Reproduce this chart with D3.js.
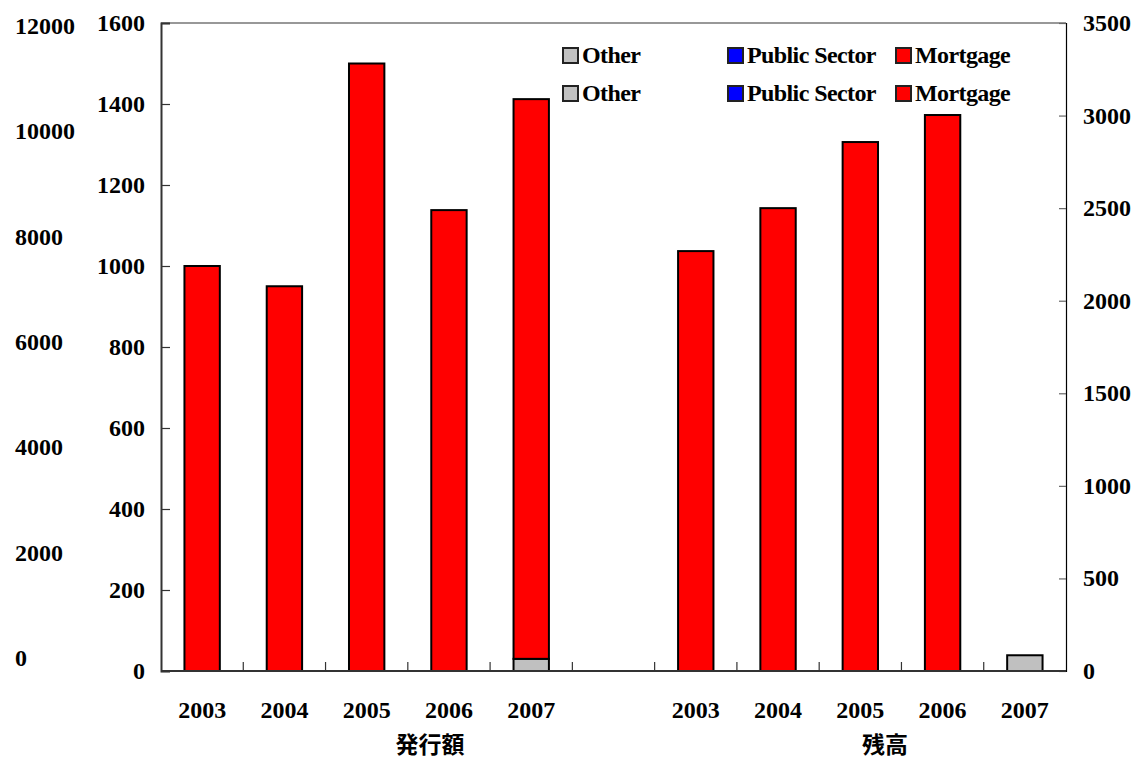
<!DOCTYPE html>
<html>
<head>
<meta charset="utf-8">
<script src="https://cdn.jsdelivr.net/npm/d3@7"></script>
<style>
  html, body { margin: 0; padding: 0; background: #fff; }
  svg { display: block; }
  .num { font-family: "Liberation Serif", "Times New Roman", serif; font-weight: bold; font-size: 24px; fill: #000; }
  .leg { font-family: "Liberation Serif", "Times New Roman", serif; font-weight: bold; font-size: 24px; letter-spacing: -0.6px; fill: #000; }
  .cjk { font-family: "Noto Sans CJK JP", sans-serif; font-weight: bold; font-size: 23px; fill: #000; }
</style>
</head>
<body>
<svg id="chart" width="1135" height="760"></svg>
<script>
// Covered bond issuance (発行額) and outstanding balance (残高), by year
const years = ["2003", "2004", "2005", "2006", "2007"];
const groupTitles = ["発行額", "残高"];

const issuanceOther    = [0, 0, 0, 0, 30];
const issuancePublic   = [0, 0, 0, 0, 0];
const issuanceMortgage = [1000, 950, 1500, 1138, 1382];

const balanceOther    = [0, 0, 0, 0, 85];
const balancePublic   = [0, 0, 0, 0, 0];
const balanceMortgage = [2268, 2500, 2857, 3003, 0];

const seriesNames  = ["Other", "Public Sector", "Mortgage"];
const seriesColors = ["#c0c0c0", "#0000ff", "#ff0000"];

const leftTicks  = [0, 200, 400, 600, 800, 1000, 1200, 1400, 1600];
const rightTicks = [0, 500, 1000, 1500, 2000, 2500, 3000, 3500];
const outerTicks = [0, 2000, 4000, 6000, 8000, 10000, 12000];

const svg = d3.select("#chart");
const plot = { left: 161, right: 1066, top: 23, bottom: 671 };

// 11 slots: five issuance years, an empty gap, five balance years
const slots = years.map(y => "i" + y).concat(["gap"], years.map(y => "b" + y));
const x = d3.scaleBand().domain(slots).range([plot.left, plot.right]).padding(0);
const barW = x.bandwidth() * 0.43;

const yLeft  = d3.scaleLinear().domain([0, 1600]).range([plot.bottom, plot.top]);
const yRight = d3.scaleLinear().domain([0, 3500]).range([plot.bottom, plot.top]);
const yOuter = d3.scaleLinear().domain([0, 12000]).range([658, 26]);

// Build stacked rows (Other at the bottom, Mortgage on top)
function rows(prefix, other, pub, mort) {
  return years.map((y, i) => ({ key: prefix + y, Other: other[i], "Public Sector": pub[i], Mortgage: mort[i] }));
}
const stack = d3.stack().keys(seriesNames);
const issuanceStack = stack(rows("i", issuanceOther, issuancePublic, issuanceMortgage));
const balanceStack  = stack(rows("b", balanceOther, balancePublic, balanceMortgage));

function drawBars(stacked, yScale) {
  const g = svg.append("g");
  stacked.forEach((layer, li) => {
    g.selectAll(null)
      .data(layer.filter(d => d[1] - d[0] > 0))
      .enter().append("rect")
      .attr("x", d => x(d.data.key) + (x.bandwidth() - barW) / 2)
      .attr("y", d => yScale(d[1]))
      .attr("width", barW)
      .attr("height", d => yScale(d[0]) - yScale(d[1]))
      .attr("fill", seriesColors[li])
      .attr("stroke", "#000")
      .attr("stroke-width", 2);
  });
}
drawBars(issuanceStack, yLeft);
drawBars(balanceStack, yRight);

// Frame: top edge
svg.append("line").attr("x1", plot.left).attr("x2", plot.right).attr("y1", plot.top).attr("y2", plot.top)
  .attr("stroke", "#333").attr("stroke-width", 1.2);

// Left axis (0–1600)
const gl = svg.append("g").attr("transform", `translate(${plot.left},0)`)
  .call(d3.axisRight(yLeft).tickValues(leftTicks).tickSize(9).tickFormat(""));
gl.select(".domain").attr("stroke", "#333").attr("stroke-width", 2);
gl.selectAll(".tick line").attr("stroke", "#333").attr("stroke-width", 1.2);
svg.append("g").selectAll("text").data(leftTicks).enter().append("text")
  .attr("class", "num").attr("text-anchor", "end")
  .attr("x", 145).attr("y", d => yLeft(d) + 8).text(d => d);

// Right axis (0–3500)
const gr = svg.append("g").attr("transform", `translate(${plot.right},0)`)
  .call(d3.axisLeft(yRight).tickValues(rightTicks).tickSize(7).tickFormat(""));
gr.select(".domain").attr("stroke", "#000").attr("stroke-width", 1.2);
gr.selectAll(".tick line").attr("stroke", "#666").attr("stroke-width", 1.2);
svg.append("g").selectAll("text").data(rightTicks).enter().append("text")
  .attr("class", "num").attr("text-anchor", "start")
  .attr("x", 1083).attr("y", d => yRight(d) + 8).text(d => d);

// Outer scale labels (0–12000)
svg.append("g").selectAll("text").data(outerTicks).enter().append("text")
  .attr("class", "num").attr("text-anchor", "start")
  .attr("x", 15).attr("y", d => yOuter(d) + 8).text(d => d);

// Bottom axis with separators between slots
const gb = svg.append("g").attr("transform", `translate(0,${plot.bottom})`);
gb.append("line").attr("x1", plot.left).attr("x2", plot.right).attr("y1", 0).attr("y2", 0)
  .attr("stroke", "#333").attr("stroke-width", 2);
gb.selectAll(".sep").data(slots.slice(1)).enter().append("line")
  .attr("x1", d => x(d)).attr("x2", d => x(d)).attr("y1", 0).attr("y2", -9)
  .attr("stroke", "#333").attr("stroke-width", 1.2);

// Year labels
const labelSlots = slots.filter(s => s !== "gap");
svg.append("g").selectAll("text").data(labelSlots).enter().append("text")
  .attr("class", "num").attr("text-anchor", "middle")
  .attr("x", d => x(d) + x.bandwidth() / 2).attr("y", 718).text(d => d.slice(1));

// Group titles
svg.append("text").attr("class", "cjk").attr("text-anchor", "middle").attr("x", 430).attr("y", 753).text(groupTitles[0]);
svg.append("text").attr("class", "cjk").attr("text-anchor", "middle").attr("x", 885).attr("y", 753).text(groupTitles[1]);

// Legends (one per scale)
const legendX = [563, 728, 896];
[63, 101].forEach(baseline => {
  const lg = svg.append("g");
  seriesNames.forEach((name, i) => {
    lg.append("rect").attr("x", legendX[i]).attr("y", baseline - 15).attr("width", 15).attr("height", 15)
      .attr("fill", seriesColors[i]).attr("stroke", "#222").attr("stroke-width", 2);
    lg.append("text").attr("class", "leg").attr("x", legendX[i] + 19).attr("y", baseline).text(name);
  });
});
</script>
</body>
</html>
